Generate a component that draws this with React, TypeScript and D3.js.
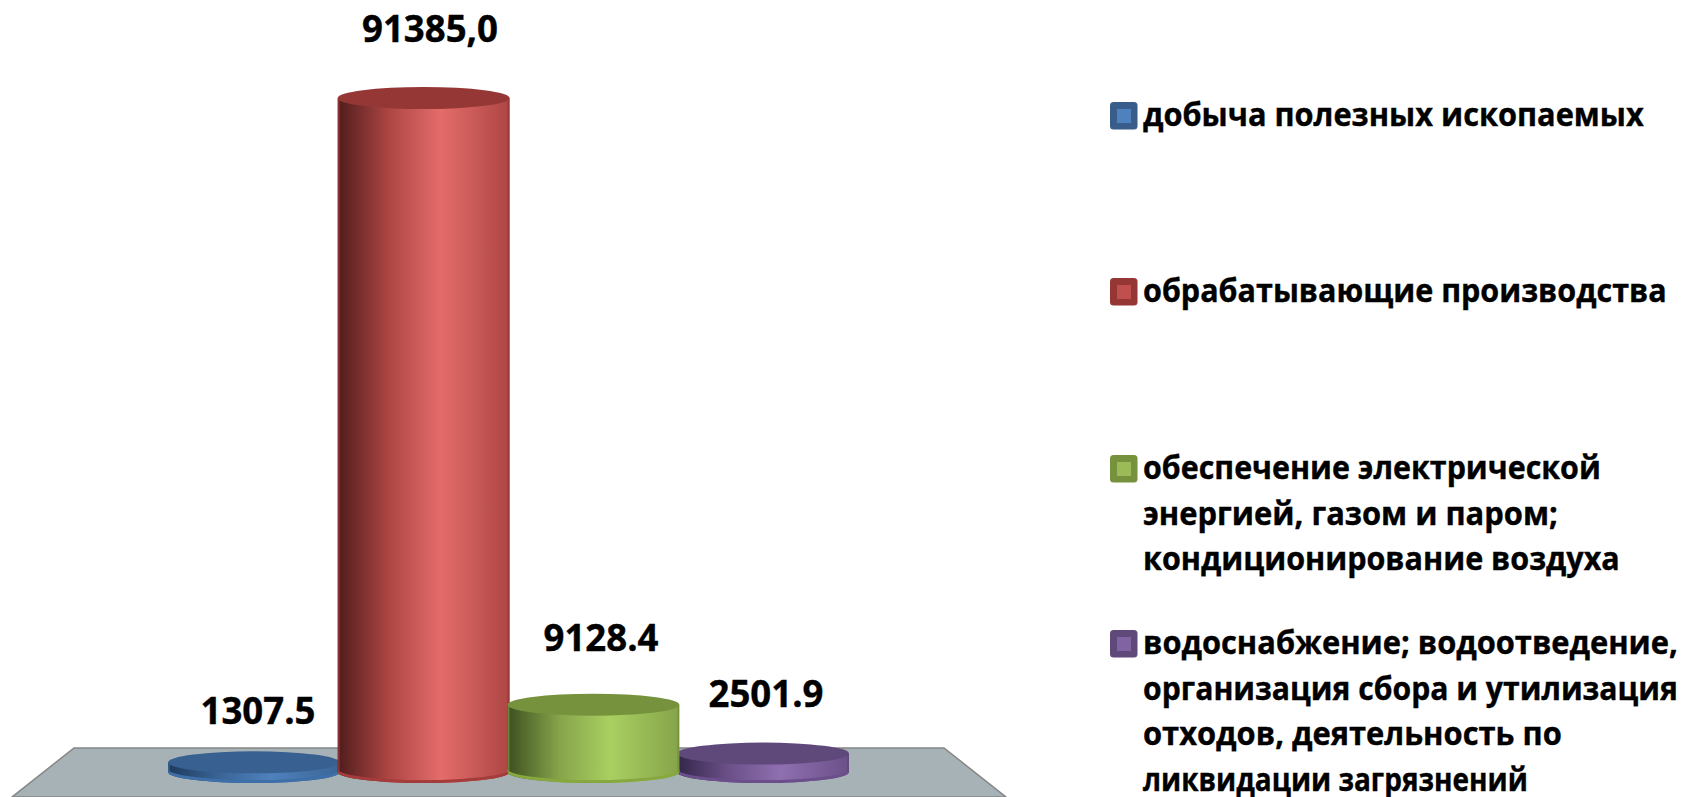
import React from "react";
import * as d3 from "d3";

const categories = ["добыча полезных ископаемых", "обрабатывающие производства", "обеспечение электрической энергией, газом и паром; кондиционирование воздуха", "водоснабжение; водоотведение, организация сбора и утилизация отходов, деятельность по ликвидации загрязнений"];
const values = [1307.5, 91385.0, 9128.4, 2501.9];
const valueLabels = ["1307.5", "91385,0", "9128.4", "2501.9"];
const legendLines = [
  ["добыча полезных ископаемых"],
  ["обрабатывающие производства"],
  ["обеспечение электрической", "энергией, газом и паром;", "кондиционирование воздуха"],
  ["водоснабжение; водоотведение,", "организация сбора и утилизация", "отходов, деятельность по", "ликвидации загрязнений"],
];
// layout of the text, kept apart from the data above
const legendWidths = [[501], [524], [458, 415, 477], [535, 535, 419, 385]];
const legendY = [126, 302, 479, 654];
const labelPos = [[258, 724], [430, 42], [601, 651], [766, 707]];
const labelWidths = [115, 136, 115, 115];
const palette = [
  { dark: "#1f3a5c", mid: "#3a6596", light: "#4f81bd", top: "#386192", edge: "#3f6fa8", sw: "#4f81bd", swb: "#385d8a" },
  { dark: "#4f1d1c", mid: "#ad4644", light: "#e46c6a", top: "#953735", edge: "#a33c3a", sw: "#c0504d", swb: "#953735" },
  { dark: "#3d4f20", mid: "#86a44a", light: "#a9cf61", top: "#76923c", edge: "#86a83f", sw: "#9bbb59", swb: "#76923c" },
  { dark: "#33264a", mid: "#6b5088", light: "#8f6fb0", top: "#5f497a", edge: "#6a4f8b", sw: "#8064a2", swb: "#5f497a" },
];

const FONT = "'Open Sans', 'Noto Sans', sans-serif";
const W = 1685, H = 797;
const x = d3.scaleBand<number>().domain(d3.range(4)).range([168, 849]).paddingInner(-0.012).paddingOuter(0);
const y = d3.scaleLinear().domain([0, 91385]).range([772, 98]);
const RY = 11;

const ctx = document.createElement("canvas").getContext("2d")!;
function fitScale(text: string, size: number, target: number) {
  ctx.font = `700 ${size}px "Open Sans"`;
  const w = ctx.measureText(text).width;
  return w > 0 ? target / w : 1;
}

export default function App() {
  const bw = x.bandwidth();
  return (
    <svg width={W} height={H} style={{ position: "fixed", left: 0, top: 0, background: "#fff" }}>
      <defs>
        {palette.map((p, i) => (
          <linearGradient key={i} id={`cyl${i}`} x1="0" x2="1" y1="0" y2="0">
            <stop offset="0" stopColor={p.dark} />
            <stop offset="0.3" stopColor={p.mid} />
            <stop offset="0.6" stopColor={p.light} />
            <stop offset="1" stopColor={p.mid} />
          </linearGradient>
        ))}
      </defs>
      <path d="M74,748 L944,748 L1006,797 L12,797 Z" fill="#a6b2b6" stroke="#868686" strokeWidth={1.5} />
      {[0, 3, 1, 2].map((i) => {
        const left = x(i)!, cx = left + bw / 2, rx = bw / 2;
        const yt = y(values[i]), yb = y(0);
        const side = `M${left},${yt} L${left},${yb} A${rx},${RY} 0 0 0 ${left + bw},${yb} L${left + bw},${yt} Z`;
        const rim = `M${left},${yb - 3} A${rx},${RY} 0 0 0 ${left + bw},${yb - 3} L${left + bw},${yb} A${rx},${RY} 0 0 1 ${left},${yb} Z`;
        return (
          <g key={i}>
            <path d={side} fill={`url(#cyl${i})`} />
            <path d={rim} fill={palette[i].edge} />
            <path d={`M${left + 1},${yt} L${left + 1},${yb} M${left + bw - 1},${yt} L${left + bw - 1},${yb}`} stroke={palette[i].top} strokeWidth={2} opacity={0.8} />
            <ellipse cx={cx} cy={yt} rx={rx} ry={RY} fill={palette[i].top} />
          </g>
        );
      })}
      {valueLabels.map((t, i) => (
        <text key={i} transform={`translate(${labelPos[i][0]},${labelPos[i][1]}) scale(${fitScale(t, 38, labelWidths[i])},1)`} textAnchor="middle" fontFamily={FONT} fontWeight={700} fontSize={38} fill="#000" stroke="#000" strokeWidth={0.4}>{t}</text>
      ))}
      {categories.map((c, i) => (
        <g key={c}>
          <rect x={1110} y={legendY[i] - 24} width={27.5} height={27.5} rx={3.5} fill={palette[i].swb} />
          <rect x={1117} y={legendY[i] - 17} width={14} height={14} fill={palette[i].sw} />
          {legendLines[i].map((l, j) => (
            <text key={j} transform={`translate(1143,${legendY[i] + j * 45.7}) scale(${fitScale(l, 33, legendWidths[i][j])},1)`} fontFamily={FONT} fontWeight={700} fontSize={33} fill="#000" stroke="#000" strokeWidth={0.4}>{l}</text>
          ))}
        </g>
      ))}
    </svg>
  );
}
